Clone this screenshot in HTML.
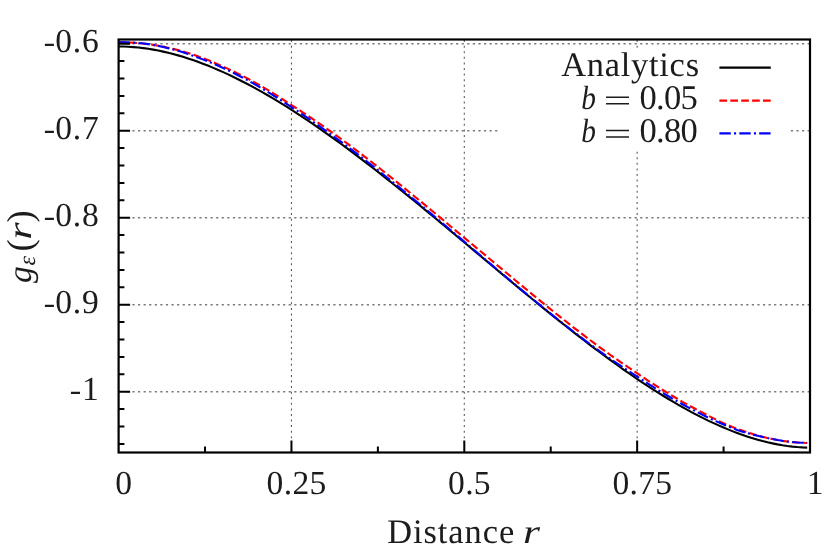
<!DOCTYPE html>
<html><head><meta charset="utf-8"><title>plot</title>
<style>
html,body{margin:0;padding:0;background:#fff;}
body{width:830px;height:558px;position:relative;overflow:hidden;font-family:"Liberation Serif",serif;}
</style></head><body>
<svg width="830" height="558" viewBox="0 0 830 558" style="position:absolute;left:0;top:0;will-change:transform">
<rect x="0" y="0" width="830" height="558" fill="#fff"/>
<path d="M126.84 43.70 H810.00 M126.84 130.70 H810.00 M126.84 217.70 H810.00 M126.84 304.70 H810.00 M126.84 391.70 H810.00" stroke="#7a7a7a" stroke-width="1.4" stroke-dasharray="2.2 3.38" fill="none"/>
<path d="M291.45 443.86 V39.50 M464.30 443.86 V39.50 M637.15 443.86 V39.50" stroke="#5c5c5c" stroke-width="1.1" stroke-dasharray="2.0 3.58" fill="none"/>
<path d="M118.60 46.46 L123.55 46.53 L128.51 46.74 L133.46 47.08 L138.42 47.54 L143.37 48.12 L148.32 48.82 L153.28 49.64 L158.23 50.57 L163.19 51.61 L168.14 52.76 L173.09 54.02 L178.05 55.38 L183.00 56.85 L187.96 58.41 L192.91 60.06 L197.86 61.82 L202.82 63.66 L207.77 65.59 L212.73 67.61 L217.68 69.72 L222.63 71.90 L227.59 74.17 L232.54 76.52 L237.49 78.95 L242.45 81.44 L247.40 84.02 L252.36 86.66 L257.31 89.37 L262.26 92.15 L267.22 94.99 L272.17 97.90 L277.13 100.86 L282.08 103.89 L287.03 106.98 L291.99 110.12 L296.94 113.31 L301.90 116.56 L306.85 119.86 L311.80 123.21 L316.76 126.61 L321.71 130.05 L326.67 133.54 L331.62 137.07 L336.57 140.64 L341.53 144.25 L346.48 147.90 L351.44 151.59 L356.39 155.31 L361.34 159.07 L366.30 162.86 L371.25 166.68 L376.21 170.53 L381.16 174.41 L386.11 178.32 L391.07 182.25 L396.02 186.20 L400.98 190.18 L405.93 194.18 L410.88 198.19 L415.84 202.23 L420.79 206.28 L425.75 210.35 L430.70 214.44 L435.65 218.53 L440.61 222.64 L445.56 226.76 L450.52 230.89 L455.47 235.02 L460.42 239.16 L465.38 243.31 L470.33 247.46 L475.28 251.61 L480.24 255.76 L485.19 259.91 L490.15 264.06 L495.10 268.20 L500.05 272.34 L505.01 276.48 L509.96 280.60 L514.92 284.72 L519.87 288.82 L524.82 292.91 L529.78 296.99 L534.73 301.06 L539.69 305.10 L544.64 309.13 L549.59 313.14 L554.55 317.13 L559.50 321.09 L564.46 325.03 L569.41 328.94 L574.36 332.83 L579.32 336.69 L584.27 340.51 L589.23 344.30 L594.18 348.06 L599.13 351.78 L604.09 355.46 L609.04 359.11 L614.00 362.71 L618.95 366.27 L623.90 369.78 L628.86 373.24 L633.81 376.66 L638.77 380.02 L643.72 383.33 L648.67 386.59 L653.63 389.79 L658.58 392.93 L663.54 396.00 L668.49 399.02 L673.44 401.97 L678.40 404.85 L683.35 407.66 L688.31 410.39 L693.26 413.06 L698.21 415.64 L703.17 418.14 L708.12 420.57 L713.07 422.91 L718.03 425.16 L722.98 427.32 L727.94 429.39 L732.89 431.36 L737.84 433.24 L742.80 435.01 L747.75 436.68 L752.71 438.25 L757.66 439.70 L762.61 441.05 L767.57 442.28 L772.52 443.39 L777.48 444.38 L782.43 445.25 L787.38 445.99 L792.34 446.60 L797.29 447.07 L802.25 447.41 L807.20 447.60" stroke="#000" stroke-width="2.1" fill="none" stroke-linejoin="round"/>
<path d="M118.60 42.36 L123.55 42.33 L128.51 42.44 L133.46 42.68 L138.42 43.04 L143.37 43.53 L148.32 44.14 L153.28 44.87 L158.23 45.71 L163.19 46.65 L168.14 47.71 L173.09 48.87 L178.05 50.14 L183.00 51.52 L187.96 53.01 L192.91 54.61 L197.86 56.33 L202.82 58.15 L207.77 60.07 L212.73 62.07 L217.68 64.16 L222.63 66.34 L227.59 68.60 L232.54 70.94 L237.49 73.35 L242.45 75.85 L247.40 78.42 L252.36 81.06 L257.31 83.82 L262.26 86.68 L267.22 89.62 L272.17 92.65 L277.13 95.74 L282.08 98.88 L287.03 102.07 L291.99 105.28 L296.94 108.51 L301.90 111.76 L306.85 115.05 L311.80 118.38 L316.76 121.75 L321.71 125.17 L326.67 128.62 L331.62 132.13 L336.57 135.68 L341.53 139.27 L346.48 142.91 L351.44 146.59 L356.39 150.32 L361.34 154.08 L366.30 157.88 L371.25 161.72 L376.21 165.58 L381.16 169.48 L386.11 173.40 L391.07 177.35 L396.02 181.33 L400.98 185.33 L405.93 189.35 L410.88 193.39 L415.84 197.45 L420.79 201.52 L425.75 205.61 L430.70 209.71 L435.65 213.82 L440.61 217.93 L445.56 222.06 L450.52 226.19 L455.47 230.32 L460.42 234.45 L465.38 238.59 L470.33 242.72 L475.28 246.86 L480.24 250.99 L485.19 255.13 L490.15 259.27 L495.10 263.40 L500.05 267.54 L505.01 271.68 L509.96 275.81 L514.92 279.94 L519.87 284.06 L524.82 288.17 L529.78 292.26 L534.73 296.34 L539.69 300.39 L544.64 304.43 L549.59 308.44 L554.55 312.42 L559.50 316.38 L564.46 320.30 L569.41 324.19 L574.36 328.05 L579.32 331.88 L584.27 335.66 L589.23 339.42 L594.18 343.13 L599.13 346.81 L604.09 350.45 L609.04 354.01 L614.00 357.51 L618.95 360.95 L623.90 364.35 L628.86 367.72 L633.81 371.07 L638.77 374.42 L643.72 377.74 L648.67 381.01 L653.63 384.22 L658.58 387.38 L663.54 390.49 L668.49 393.53 L673.44 396.51 L678.40 399.43 L683.35 402.29 L688.31 405.07 L693.26 407.79 L698.21 410.43 L703.17 413.02 L708.12 415.61 L713.07 418.17 L718.03 420.64 L722.98 422.99 L727.94 425.17 L732.89 427.16 L737.84 429.03 L742.80 430.80 L747.75 432.46 L752.71 434.01 L757.66 435.45 L762.61 436.78 L767.57 437.99 L772.52 439.09 L777.48 440.05 L782.43 440.88 L787.38 441.57 L792.34 442.13 L797.29 442.54 L802.25 442.81 L807.20 442.94" stroke="#ff0000" stroke-width="2.1" fill="none" stroke-dasharray="7.7 3.2" stroke-linejoin="round"/>
<path d="M118.60 42.36 L123.55 42.29 L128.51 42.36 L133.46 42.58 L138.42 42.94 L143.37 43.45 L148.32 44.12 L153.28 44.94 L158.23 45.89 L163.19 46.96 L168.14 48.15 L173.09 49.45 L178.05 50.86 L183.00 52.37 L187.96 53.99 L192.91 55.69 L197.86 57.49 L202.82 59.38 L207.77 61.36 L212.73 63.42 L217.68 65.56 L222.63 67.80 L227.59 70.11 L232.54 72.51 L237.49 74.98 L242.45 77.54 L247.40 80.18 L252.36 82.90 L257.31 85.71 L262.26 88.62 L267.22 91.61 L272.17 94.67 L277.13 97.80 L282.08 100.97 L287.03 104.18 L291.99 107.43 L296.94 110.71 L301.90 114.04 L306.85 117.42 L311.80 120.84 L316.76 124.30 L321.71 127.80 L326.67 131.34 L331.62 134.92 L336.57 138.53 L341.53 142.18 L346.48 145.87 L351.44 149.60 L356.39 153.38 L361.34 157.19 L366.30 161.03 L371.25 164.91 L376.21 168.82 L381.16 172.76 L386.11 176.73 L391.07 180.72 L396.02 184.73 L400.98 188.77 L405.93 192.82 L410.88 196.89 L415.84 200.98 L420.79 205.08 L425.75 209.20 L430.70 213.34 L435.65 217.48 L440.61 221.64 L445.56 225.81 L450.52 229.99 L455.47 234.18 L460.42 238.38 L465.38 242.58 L470.33 246.80 L475.28 251.01 L480.24 255.22 L485.19 259.42 L490.15 263.61 L495.10 267.79 L500.05 271.95 L505.01 276.10 L509.96 280.24 L514.92 284.36 L519.87 288.48 L524.82 292.59 L529.78 296.67 L534.73 300.75 L539.69 304.80 L544.64 308.83 L549.59 312.84 L554.55 316.82 L559.50 320.75 L564.46 324.65 L569.41 328.50 L574.36 332.31 L579.32 336.08 L584.27 339.80 L589.23 343.49 L594.18 347.14 L599.13 350.76 L604.09 354.33 L609.04 357.82 L614.00 361.24 L618.95 364.59 L623.90 367.89 L628.86 371.17 L633.81 374.43 L638.77 377.69 L643.72 380.92 L648.67 384.09 L653.63 387.21 L658.58 390.27 L663.54 393.28 L668.49 396.23 L673.44 399.12 L678.40 401.95 L683.35 404.72 L688.31 407.42 L693.26 410.06 L698.21 412.64 L703.17 415.14 L708.12 417.57 L713.07 419.91 L718.03 422.16 L722.98 424.32 L727.94 426.39 L732.89 428.35 L737.84 430.14 L742.80 431.77 L747.75 433.25 L752.71 434.60 L757.66 435.84 L762.61 436.98 L767.57 438.06 L772.52 439.07 L777.48 439.99 L782.43 440.78 L787.38 441.45 L792.34 442.00 L797.29 442.43 L802.25 442.73 L807.20 442.91" stroke="#0000ff" stroke-width="2.1" fill="none" stroke-dasharray="11.4 3.2 2.1 3.2" stroke-linejoin="round"/>
<path d="M118.60 43.70 h11.50 M118.60 61.10 h5.80 M118.60 78.50 h5.80 M118.60 95.90 h5.80 M118.60 113.30 h5.80 M118.60 130.70 h11.50 M118.60 148.10 h5.80 M118.60 165.50 h5.80 M118.60 182.90 h5.80 M118.60 200.30 h5.80 M118.60 217.70 h11.50 M118.60 235.10 h5.80 M118.60 252.50 h5.80 M118.60 269.90 h5.80 M118.60 287.30 h5.80 M118.60 304.70 h11.50 M118.60 322.10 h5.80 M118.60 339.50 h5.80 M118.60 356.90 h5.80 M118.60 374.30 h5.80 M118.60 391.70 h11.50 M118.60 409.10 h5.80 M118.60 426.50 h5.80 M118.60 443.90 h5.80 M205.02 452.50 v-6.00 M291.45 452.50 v-12.00 M377.88 452.50 v-6.00 M464.30 452.50 v-12.00 M550.73 452.50 v-6.00 M637.15 452.50 v-12.00 M723.58 452.50 v-6.00" stroke="#000" stroke-width="2" fill="none"/>
<rect x="499.5" y="51" width="290" height="99" fill="#fff"/>
<rect x="118.60" y="39.50" width="691.40" height="413.00" fill="none" stroke="#000" stroke-width="2.2"/>
<path d="M719.4 67.6 H770.8" stroke="#000" stroke-width="2.1"/>
<path d="M719.4 100.6 H770.8" stroke="#ff0000" stroke-width="2.1" stroke-dasharray="7.7 3.2"/>
<path d="M719.4 133.4 H770.8" stroke="#0000ff" stroke-width="2.1" stroke-dasharray="11.4 3.2 2.1 3.2"/>
<g font-family="Liberation Serif, serif" font-size="33.6" fill="#1c1c1c" text-rendering="geometricPrecision" style="will-change:transform">
<text x="99.4" y="52.4" text-anchor="end" font-size="33.6" letter-spacing="0.7">0.6</text>
<text x="99.4" y="139.4" text-anchor="end" font-size="33.6" letter-spacing="0.7">0.7</text>
<text x="99.4" y="226.4" text-anchor="end" font-size="33.6" letter-spacing="0.7">0.8</text>
<text x="99.4" y="313.4" text-anchor="end" font-size="33.6" letter-spacing="0.7">0.9</text>
<text x="99.4" y="400.4" text-anchor="end" font-size="33.6" letter-spacing="0.7">1</text>
<path d="M44.9 44.90 H53.9 M44.9 131.90 H53.9 M44.9 218.90 H53.9 M44.9 305.90 H53.9 M70.9 392.90 H80.0" stroke="#1c1c1c" stroke-width="2.1" fill="none"/>
<text x="123.8" y="493.8" text-anchor="middle" font-size="33.6" letter-spacing="0.3">0</text>
<text x="296.6" y="493.8" text-anchor="middle" font-size="33.6" letter-spacing="0.3">0.25</text>
<text x="469.5" y="493.8" text-anchor="middle" font-size="33.6" letter-spacing="0.3">0.5</text>
<text x="642.4" y="493.8" text-anchor="middle" font-size="33.6" letter-spacing="0.3">0.75</text>
<text x="815.2" y="493.8" text-anchor="middle" font-size="33.6" letter-spacing="0.3">1</text>
<text x="387.2" y="543" font-size="34.4" letter-spacing="0.95">Distance</text>
<text transform="translate(523 543) scale(1.3 1)" font-style="italic">r</text>
<g transform="translate(31 283) rotate(-90)">
<text x="0" y="0" font-style="italic">g</text>
<text x="17.5" y="4.3" font-style="italic" font-size="24">ε</text>
<text x="31.6" y="0.6" font-size="36.5">(</text>
<text transform="translate(43.2 0) scale(1.33 1)" font-style="italic">r</text>
<text x="60.6" y="0.6" font-size="36.5">)</text>
</g>
<text x="699.8" y="76" text-anchor="end" font-size="34.4" letter-spacing="0.76">Analytics</text>
<text transform="translate(581.2 108.7) scale(0.87 1)" font-style="italic" font-size="33.7">b</text>
<path d="M606 97.2 H629 M606 103.8 H629" stroke="#1c1c1c" stroke-width="1.5"/>
<text transform="translate(581.2 141.9) scale(0.87 1)" font-style="italic" font-size="33.7">b</text>
<path d="M606 130.4 H629 M606 137.0 H629" stroke="#1c1c1c" stroke-width="1.5"/>
<text x="696.9" y="108.7" text-anchor="end" font-size="34.6" letter-spacing="-0.8">0.05</text>
<text x="696.9" y="141.9" text-anchor="end" font-size="34.6" letter-spacing="-0.8">0.80</text>
</g>
</svg>
</body></html>
